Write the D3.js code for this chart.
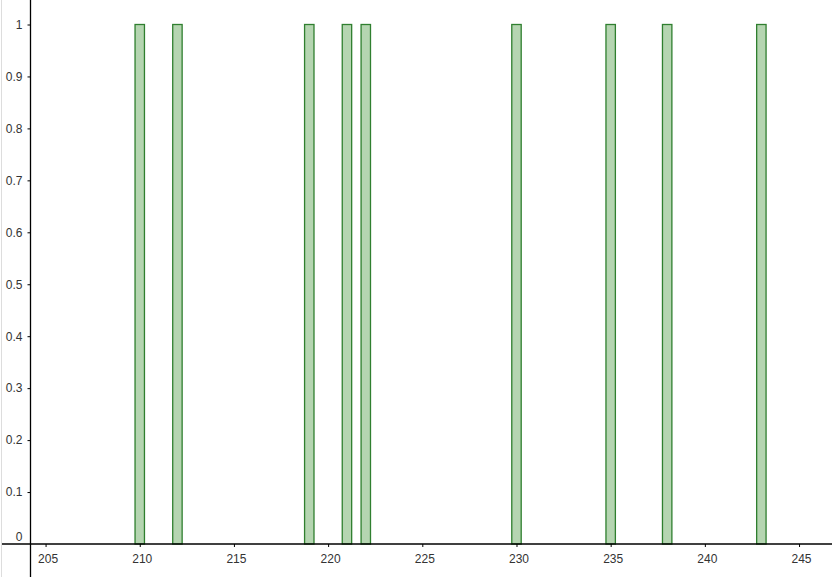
<!DOCTYPE html>
<html>
<head>
<meta charset="utf-8">
<script src="https://cdn.jsdelivr.net/npm/d3@7"></script>
<style>
  body { margin: 0; background: #fff; }
  svg { display: block; font-family: Arial, "Liberation Sans", sans-serif; }
  .tick text { font-size: 12px; fill: #333; }
</style>
</head>
<body>
<div id="chart"></div>
<script>
// observed values (each occurs once)
const values = [210, 212, 219, 221, 222, 230, 235, 238, 243];
const counts = [1, 1, 1, 1, 1, 1, 1, 1, 1];
const xTicks = [205, 210, 215, 220, 225, 230, 235, 240, 245];
const yTicks = [0, 0.1, 0.2, 0.3, 0.4, 0.5, 0.6, 0.7, 0.8, 0.9, 1];
const barWidth = 0.5;

const width = 832, height = 577;

const svg = d3.select('#chart').append('svg')
    .attr('width', width)
    .attr('height', height);

// left border line
svg.append('line')
    .attr('x1', 1.5).attr('x2', 1.5)
    .attr('y1', 0).attr('y2', height)
    .attr('stroke', '#ddd');

const xScale = d3.scaleLinear()
    .domain([204.2, 246.75])
    .range([30.5, 832]);

const yScale = d3.scaleLinear()
    .domain([0, 1])
    .range([544, 24.5]);

const data = values.map((v, i) => ({ value: v, count: counts[i] }));

// bars
svg.append('g').selectAll('rect')
    .data(data)
    .join('rect')
    .attr('x', d => xScale(d.value - barWidth / 2))
    .attr('y', d => yScale(d.count))
    .attr('width', d => xScale(d.value + barWidth / 2) - xScale(d.value - barWidth / 2))
    .attr('height', d => yScale(0) - yScale(d.count))
    .attr('fill', '#b5d5b1')
    .attr('stroke', '#2f7f2f')
    .attr('stroke-width', 1.3);

// x axis
const xAxisG = svg.append('g')
    .attr('transform', `translate(0,${yScale(0)})`)
    .call(d3.axisBottom(xScale).tickValues(xTicks).tickSize(3).tickSizeOuter(0));
xAxisG.select('.domain').remove();
xAxisG.append('line')
    .attr('x1', 2).attr('x2', width)
    .attr('stroke', '#000').attr('stroke-width', 1.3);
xAxisG.selectAll('.tick line').attr('stroke', '#000');
xAxisG.selectAll('.tick text').attr('dy', '1.05em').attr('dx', '2');

// y axis
const yAxisG = svg.append('g')
    .attr('transform', `translate(${xScale.range()[0]},0)`)
    .call(d3.axisLeft(yScale).tickValues(yTicks).tickFormat(d3.format('~g'))
        .tickSize(3).tickSizeOuter(0));
yAxisG.select('.domain').remove();
yAxisG.append('line')
    .attr('y1', 0).attr('y2', height)
    .attr('stroke', '#000').attr('stroke-width', 1.3);
yAxisG.selectAll('.tick line').attr('stroke', '#000');
yAxisG.selectAll('.tick text').attr('x', -8);
// "0" sits above the x axis
yAxisG.selectAll('.tick').filter(d => d === 0).select('text').attr('dy', '-0.3em');
yAxisG.selectAll('.tick').filter(d => d === 0).select('line').remove();
</script>
</body>
</html>
